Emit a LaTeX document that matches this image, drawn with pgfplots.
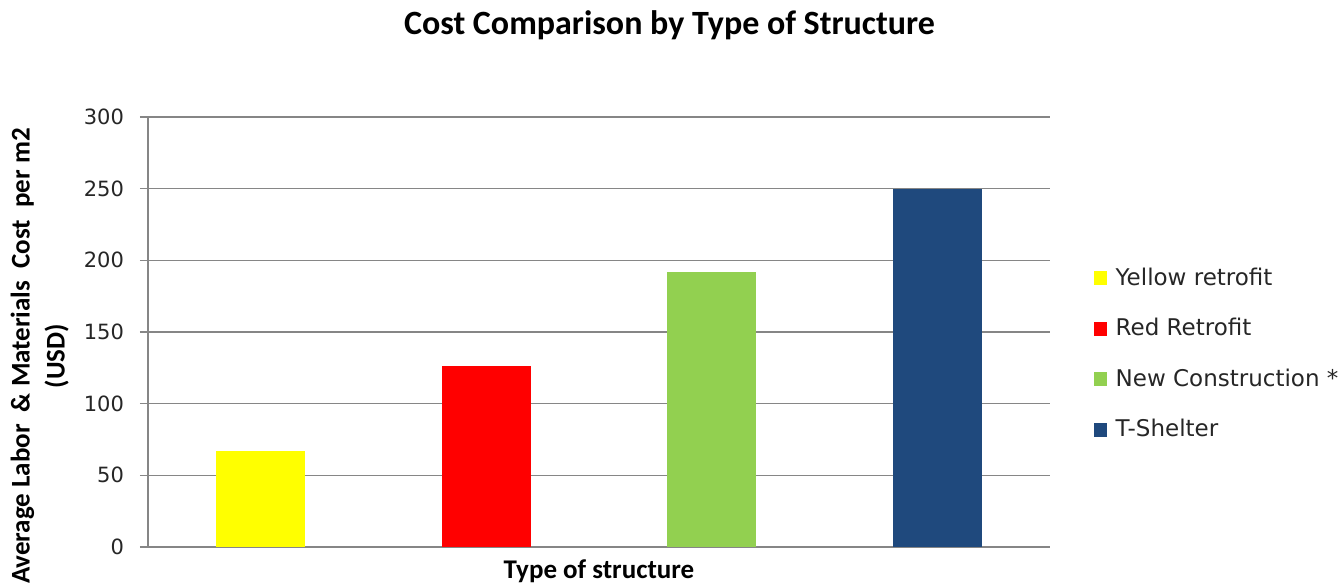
\documentclass[border=0pt]{standalone}
\usepackage{fontspec}
\setmainfont{Carlito}
\newfontfamily\dv{DejaVu Sans}
\usepackage{pgfplots}
\pgfplotsset{compat=1.18}
\definecolor{cyel}{RGB}{255,255,0}
\definecolor{cred}{RGB}{255,0,0}
\definecolor{cgrn}{RGB}{146,208,80}
\definecolor{cblu}{RGB}{31,73,125}
\definecolor{gridc}{RGB}{134,134,134}
\begin{document}
\begin{tikzpicture}
\path[use as bounding box] (-74pt,-18.5pt) rectangle (595.5pt,273.5pt);
\begin{axis}[
  at={(0,0)}, anchor=south west,
  width=451pt, height=215pt, scale only axis,
  xmin=-0.5, xmax=3.5, ymin=0, ymax=300,
  ytick={0,50,100,150,200,250,300},
  xtick=\empty,
  axis lines=left,
  axis line style={draw=gridc, line width=0.8pt, -},
  ymajorgrids,
  grid style={draw=gridc, line width=0.6pt},
  tick align=outside,
  major tick length=4pt,
  tick style={draw=gridc, line width=0.6pt},
  /pgf/number format/assume math mode=true,
  yticklabel style={font=\dv\fontsize{10.5pt}{12pt}\selectfont, text=black!85, xshift=-4.5pt},
  ybar, bar width=44.5pt, bar shift=0pt,
  xlabel={\textbf{Type of structure}},
  xlabel style={at={(axis description cs:0.5,0)}, anchor=base, yshift=-15.5pt, font=\fontsize{13.5pt}{15pt}\selectfont},
  ylabel={\textbf{Average Labor\ \ \& Materials\ \ Cost\ \ per m2}\\\textbf{(USD)}},
  ylabel style={at={(axis description cs:-0.12,0.444)}, anchor=center, align=center, font=\fontsize{13.5pt}{17.5pt}\selectfont},
  legend style={draw=none, fill=none, at={(1.048,0.449)}, anchor=west,
    font=\dv\fontsize{11.5pt}{13pt}\selectfont, row sep=12pt, column sep=3pt,
    inner sep=0pt, nodes={inner sep=1.5pt, text=black!85}},
  legend cell align=left,
  legend image code/.code={\fill[#1, draw=none] (-3pt,-3.5pt) rectangle (3.5pt,3.5pt);},
]
\addplot[fill=cyel, draw=none] coordinates {(0,67)};
\addplot[fill=cred, draw=none] coordinates {(1,126)};
\addplot[fill=cgrn, draw=none] coordinates {(2,192)};
\addplot[fill=cblu, draw=none] coordinates {(3,250)};
\legend{Yellow retrofit, Red Retrofit, New Construction *, T-Shelter}
\end{axis}
\node[font=\bfseries\fontsize{17pt}{19pt}\selectfont, anchor=center] at (260.75pt,261pt) {Cost Comparison by Type of Structure};
\end{tikzpicture}
\end{document}
